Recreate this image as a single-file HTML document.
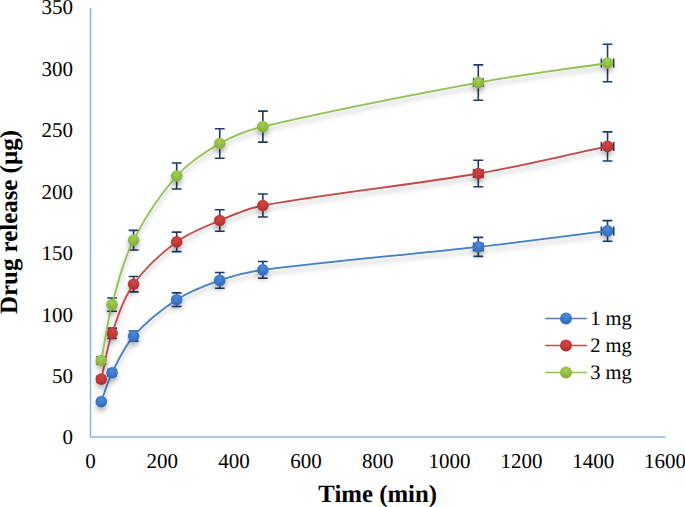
<!DOCTYPE html>
<html><head><meta charset="utf-8"><style>
html,body{margin:0;padding:0;background:#fff;}
body{width:685px;height:507px;overflow:hidden;position:relative;}
svg{position:absolute;left:0;top:0;}
text{font-family:"Liberation Serif",serif;fill:#000;text-rendering:geometricPrecision;}
</style></head><body>
<svg width="685" height="507" viewBox="0 0 685 507">
<defs>
<filter id="sh" filterUnits="userSpaceOnUse" x="0" y="0" width="685" height="507"><feDropShadow dx="0" dy="4" stdDeviation="2.4" flood-color="#000" flood-opacity="0.26"/></filter>
<radialGradient id="gb" cx="50%" cy="30%" r="70%"><stop offset="0" stop-color="#4b8bdb"/><stop offset="1" stop-color="#3068b8"/></radialGradient>
<radialGradient id="gr" cx="50%" cy="30%" r="70%"><stop offset="0" stop-color="#d64444"/><stop offset="1" stop-color="#b02f30"/></radialGradient>
<radialGradient id="gg" cx="50%" cy="30%" r="70%"><stop offset="0" stop-color="#a2cf52"/><stop offset="1" stop-color="#84ad3a"/></radialGradient>
</defs>
<rect width="685" height="507" fill="#fff"/>

<path d="M90.5,8.4 V437.0 H665.0" fill="none" stroke="#8db3e2" stroke-width="1.5" stroke-linejoin="round" stroke-linecap="round"/>
<text x="73" y="444.45" font-size="21" text-anchor="end">0</text>
<text x="73" y="383.00" font-size="21" text-anchor="end">50</text>
<text x="73" y="321.55" font-size="21" text-anchor="end">100</text>
<text x="73" y="260.10" font-size="21" text-anchor="end">150</text>
<text x="73" y="198.65" font-size="21" text-anchor="end">200</text>
<text x="73" y="137.20" font-size="21" text-anchor="end">250</text>
<text x="73" y="75.75" font-size="21" text-anchor="end">300</text>
<text x="73" y="14.30" font-size="21" text-anchor="end">350</text>
<text x="90.5" y="467.6" font-size="21" text-anchor="middle">0</text>
<text x="162.3" y="467.6" font-size="21" text-anchor="middle">200</text>
<text x="234.1" y="467.6" font-size="21" text-anchor="middle">400</text>
<text x="305.9" y="467.6" font-size="21" text-anchor="middle">600</text>
<text x="377.8" y="467.6" font-size="21" text-anchor="middle">800</text>
<text x="449.6" y="467.6" font-size="21" text-anchor="middle">1000</text>
<text x="521.4" y="467.6" font-size="21" text-anchor="middle">1200</text>
<text x="593.2" y="467.6" font-size="21" text-anchor="middle">1400</text>
<text x="665.0" y="467.6" font-size="21" text-anchor="middle">1600</text>
<text x="377.7" y="501.6" font-size="24.8" font-weight="bold" text-anchor="middle">Time (min)</text>
<text transform="translate(17.4,222) rotate(-90)" font-size="24.9" font-weight="bold" text-anchor="middle">Drug release (µg)</text>
<path d="M101.27,399.83 V403.37 M96.37,399.83 h9.8 M96.37,403.37 h9.8 M101.14,401.60 H101.40 M101.14,397.10 v9 M101.40,397.10 v9" fill="none" stroke="#1f3a66" stroke-width="1.6"/>
<path d="M112.04,369.59 V376.01 M107.14,369.59 h9.8 M107.14,376.01 h9.8 M111.79,372.80 H112.30 M111.79,368.30 v9 M112.30,368.30 v9" fill="none" stroke="#1f3a66" stroke-width="1.6"/>
<path d="M133.59,331.06 V341.15 M128.69,331.06 h9.8 M128.69,341.15 h9.8 M133.07,336.10 H134.10 M133.07,331.60 v9 M134.10,331.60 v9" fill="none" stroke="#1f3a66" stroke-width="1.6"/>
<path d="M176.68,292.83 V306.56 M171.78,292.83 h9.8 M171.78,306.56 h9.8 M175.65,299.70 H177.70 M175.65,295.20 v9 M177.70,295.20 v9" fill="none" stroke="#1f3a66" stroke-width="1.6"/>
<path d="M219.76,272.57 V288.23 M214.86,272.57 h9.8 M214.86,288.23 h9.8 M218.22,280.40 H221.30 M218.22,275.90 v9 M221.30,275.90 v9" fill="none" stroke="#1f3a66" stroke-width="1.6"/>
<path d="M262.85,261.54 V278.25 M257.95,261.54 h9.8 M257.95,278.25 h9.8 M260.80,269.90 H264.90 M260.80,265.40 v9 M264.90,265.40 v9" fill="none" stroke="#1f3a66" stroke-width="1.6"/>
<path d="M478.29,237.40 V256.41 M473.39,237.40 h9.8 M473.39,256.41 h9.8 M473.67,246.90 H482.90 M473.67,242.40 v9 M482.90,242.40 v9" fill="none" stroke="#1f3a66" stroke-width="1.6"/>
<path d="M607.55,220.59 V241.21 M602.65,220.59 h9.8 M602.65,241.21 h9.8 M601.40,230.90 H613.70 M601.40,226.40 v9 M613.70,226.40 v9" fill="none" stroke="#1f3a66" stroke-width="1.6"/>
<path d="M101.27,376.21 V382.00 M96.37,376.21 h9.8 M96.37,382.00 h9.8 M101.14,379.10 H101.40 M101.14,374.60 v9 M101.40,374.60 v9" fill="none" stroke="#1f3a66" stroke-width="1.6"/>
<path d="M112.04,328.12 V338.49 M107.14,328.12 h9.8 M107.14,338.49 h9.8 M111.79,333.30 H112.30 M111.79,328.80 v9 M112.30,328.80 v9" fill="none" stroke="#1f3a66" stroke-width="1.6"/>
<path d="M133.59,276.56 V291.84 M128.69,276.56 h9.8 M128.69,291.84 h9.8 M133.07,284.20 H134.10 M133.07,279.70 v9 M134.10,279.70 v9" fill="none" stroke="#1f3a66" stroke-width="1.6"/>
<path d="M176.68,232.15 V251.66 M171.78,232.15 h9.8 M171.78,251.66 h9.8 M175.65,241.90 H177.70 M175.65,237.40 v9 M177.70,237.40 v9" fill="none" stroke="#1f3a66" stroke-width="1.6"/>
<path d="M219.76,209.68 V231.32 M214.86,209.68 h9.8 M214.86,231.32 h9.8 M218.22,220.50 H221.30 M218.22,216.00 v9 M221.30,216.00 v9" fill="none" stroke="#1f3a66" stroke-width="1.6"/>
<path d="M262.85,193.93 V217.07 M257.95,193.93 h9.8 M257.95,217.07 h9.8 M260.80,205.50 H264.90 M260.80,201.00 v9 M264.90,201.00 v9" fill="none" stroke="#1f3a66" stroke-width="1.6"/>
<path d="M478.29,160.32 V186.68 M473.39,160.32 h9.8 M473.39,186.68 h9.8 M473.67,173.50 H482.90 M473.67,169.00 v9 M482.90,169.00 v9" fill="none" stroke="#1f3a66" stroke-width="1.6"/>
<path d="M607.55,131.87 V160.93 M602.65,131.87 h9.8 M602.65,160.93 h9.8 M601.40,146.40 H613.70 M601.40,141.90 v9 M613.70,141.90 v9" fill="none" stroke="#1f3a66" stroke-width="1.6"/>
<path d="M101.27,356.68 V364.32 M96.37,356.68 h9.8 M96.37,364.32 h9.8 M101.14,360.50 H101.40 M101.14,356.00 v9 M101.40,356.00 v9" fill="none" stroke="#1f3a66" stroke-width="1.6"/>
<path d="M112.04,297.98 V311.22 M107.14,297.98 h9.8 M107.14,311.22 h9.8 M111.79,304.60 H112.30 M111.79,300.10 v9 M112.30,300.10 v9" fill="none" stroke="#1f3a66" stroke-width="1.6"/>
<path d="M133.59,230.36 V250.04 M128.69,230.36 h9.8 M128.69,250.04 h9.8 M133.07,240.20 H134.10 M133.07,235.70 v9 M134.10,235.70 v9" fill="none" stroke="#1f3a66" stroke-width="1.6"/>
<path d="M176.68,162.95 V189.05 M171.78,162.95 h9.8 M171.78,189.05 h9.8 M175.65,176.00 H177.70 M175.65,171.50 v9 M177.70,171.50 v9" fill="none" stroke="#1f3a66" stroke-width="1.6"/>
<path d="M219.76,128.82 V158.18 M214.86,128.82 h9.8 M214.86,158.18 h9.8 M218.22,143.50 H221.30 M218.22,139.00 v9 M221.30,139.00 v9" fill="none" stroke="#1f3a66" stroke-width="1.6"/>
<path d="M262.85,111.08 V142.12 M257.95,111.08 h9.8 M257.95,142.12 h9.8 M260.80,126.60 H264.90 M260.80,122.10 v9 M264.90,122.10 v9" fill="none" stroke="#1f3a66" stroke-width="1.6"/>
<path d="M478.29,64.88 V100.32 M473.39,64.88 h9.8 M473.39,100.32 h9.8 M473.67,82.60 H482.90 M473.67,78.10 v9 M482.90,78.10 v9" fill="none" stroke="#1f3a66" stroke-width="1.6"/>
<path d="M607.55,44.30 V81.70 M602.65,44.30 h9.8 M602.65,81.70 h9.8 M601.40,63.00 H613.70 M601.40,58.50 v9 M613.70,58.50 v9" fill="none" stroke="#1f3a66" stroke-width="1.6"/>
<path d="M101.27,401.60 C104.86,392.00 107.53,381.96 112.04,372.80 C118.30,360.12 124.32,346.58 133.59,336.10 C145.87,322.21 161.04,309.81 176.68,299.70 C189.76,291.24 204.95,285.52 219.76,280.40 C233.68,275.59 248.21,271.80 262.85,269.90 C334.38,260.63 406.53,255.02 478.29,246.90 C521.43,242.02 564.46,236.23 607.55,230.90" fill="none" stroke="#487fc6" stroke-width="1.8" filter="url(#sh)"/>
<circle cx="101.27" cy="401.60" r="5.8" fill="url(#gb)" filter="url(#sh)"/>
<circle cx="112.04" cy="372.80" r="5.8" fill="url(#gb)" filter="url(#sh)"/>
<circle cx="133.59" cy="336.10" r="5.8" fill="url(#gb)" filter="url(#sh)"/>
<circle cx="176.68" cy="299.70" r="5.8" fill="url(#gb)" filter="url(#sh)"/>
<circle cx="219.76" cy="280.40" r="5.8" fill="url(#gb)" filter="url(#sh)"/>
<circle cx="262.85" cy="269.90" r="5.8" fill="url(#gb)" filter="url(#sh)"/>
<circle cx="478.29" cy="246.90" r="5.8" fill="url(#gb)" filter="url(#sh)"/>
<circle cx="607.55" cy="230.90" r="5.8" fill="url(#gb)" filter="url(#sh)"/>
<path d="M101.27,401.60 C104.86,392.00 107.53,381.96 112.04,372.80 C118.30,360.12 124.32,346.58 133.59,336.10 C145.87,322.21 161.04,309.81 176.68,299.70 C189.76,291.24 204.95,285.52 219.76,280.40 C233.68,275.59 248.21,271.80 262.85,269.90 C334.38,260.63 406.53,255.02 478.29,246.90 C521.43,242.02 564.46,236.23 607.55,230.90" fill="none" stroke="#487fc6" stroke-width="1.5" opacity="0.25"/>
<path d="M101.27,379.10 C104.86,363.83 107.01,348.08 112.04,333.30 C117.78,316.45 123.45,298.53 133.59,284.20 C145.00,268.06 160.69,253.72 176.68,241.90 C189.41,232.48 205.02,226.73 219.76,220.50 C233.74,214.59 247.92,208.21 262.85,205.50 C334.10,192.55 406.76,185.76 478.29,173.50 C521.66,166.06 564.46,155.43 607.55,146.40" fill="none" stroke="#c64a4a" stroke-width="1.8" filter="url(#sh)"/>
<circle cx="101.27" cy="379.10" r="5.8" fill="url(#gr)" filter="url(#sh)"/>
<circle cx="112.04" cy="333.30" r="5.8" fill="url(#gr)" filter="url(#sh)"/>
<circle cx="133.59" cy="284.20" r="5.8" fill="url(#gr)" filter="url(#sh)"/>
<circle cx="176.68" cy="241.90" r="5.8" fill="url(#gr)" filter="url(#sh)"/>
<circle cx="219.76" cy="220.50" r="5.8" fill="url(#gr)" filter="url(#sh)"/>
<circle cx="262.85" cy="205.50" r="5.8" fill="url(#gr)" filter="url(#sh)"/>
<circle cx="478.29" cy="173.50" r="5.8" fill="url(#gr)" filter="url(#sh)"/>
<circle cx="607.55" cy="146.40" r="5.8" fill="url(#gr)" filter="url(#sh)"/>
<path d="M101.27,379.10 C104.86,363.83 107.01,348.08 112.04,333.30 C117.78,316.45 123.45,298.53 133.59,284.20 C145.00,268.06 160.69,253.72 176.68,241.90 C189.41,232.48 205.02,226.73 219.76,220.50 C233.74,214.59 247.92,208.21 262.85,205.50 C334.10,192.55 406.76,185.76 478.29,173.50 C521.66,166.06 564.46,155.43 607.55,146.40" fill="none" stroke="#c64a4a" stroke-width="1.5" opacity="0.25"/>
<path d="M101.27,360.50 C104.86,341.87 107.13,322.89 112.04,304.60 C117.90,282.79 123.51,260.24 133.59,240.20 C145.06,217.38 159.76,194.98 176.68,176.00 C188.48,162.75 204.30,152.36 219.76,143.50 C233.02,135.90 247.87,130.13 262.85,126.60 C334.04,109.83 406.23,95.90 478.29,82.60 C521.13,74.70 564.46,69.53 607.55,63.00" fill="none" stroke="#97c156" stroke-width="1.8" filter="url(#sh)"/>
<circle cx="101.27" cy="360.50" r="5.8" fill="url(#gg)" filter="url(#sh)"/>
<circle cx="112.04" cy="304.60" r="5.8" fill="url(#gg)" filter="url(#sh)"/>
<circle cx="133.59" cy="240.20" r="5.8" fill="url(#gg)" filter="url(#sh)"/>
<circle cx="176.68" cy="176.00" r="5.8" fill="url(#gg)" filter="url(#sh)"/>
<circle cx="219.76" cy="143.50" r="5.8" fill="url(#gg)" filter="url(#sh)"/>
<circle cx="262.85" cy="126.60" r="5.8" fill="url(#gg)" filter="url(#sh)"/>
<circle cx="478.29" cy="82.60" r="5.8" fill="url(#gg)" filter="url(#sh)"/>
<circle cx="607.55" cy="63.00" r="5.8" fill="url(#gg)" filter="url(#sh)"/>
<path d="M101.27,360.50 C104.86,341.87 107.13,322.89 112.04,304.60 C117.90,282.79 123.51,260.24 133.59,240.20 C145.06,217.38 159.76,194.98 176.68,176.00 C188.48,162.75 204.30,152.36 219.76,143.50 C233.02,135.90 247.87,130.13 262.85,126.60 C334.04,109.83 406.23,95.90 478.29,82.60 C521.13,74.70 564.46,69.53 607.55,63.00" fill="none" stroke="#97c156" stroke-width="1.5" opacity="0.25"/>
<path d="M545.3,318.5 H586.8" stroke="#487fc6" stroke-width="1.6"/>
<circle cx="566" cy="318.5" r="6" fill="url(#gb)"/>
<text x="590.2" y="325.1" font-size="20.5">1 mg</text>
<path d="M545.3,345.5 H586.8" stroke="#c64a4a" stroke-width="1.6"/>
<circle cx="566" cy="345.5" r="6" fill="url(#gr)"/>
<text x="590.2" y="352.1" font-size="20.5">2 mg</text>
<path d="M545.3,372.5 H586.8" stroke="#97c156" stroke-width="1.6"/>
<circle cx="566" cy="372.5" r="6" fill="url(#gg)"/>
<text x="590.2" y="379.1" font-size="20.5">3 mg</text>
</svg></body></html>
